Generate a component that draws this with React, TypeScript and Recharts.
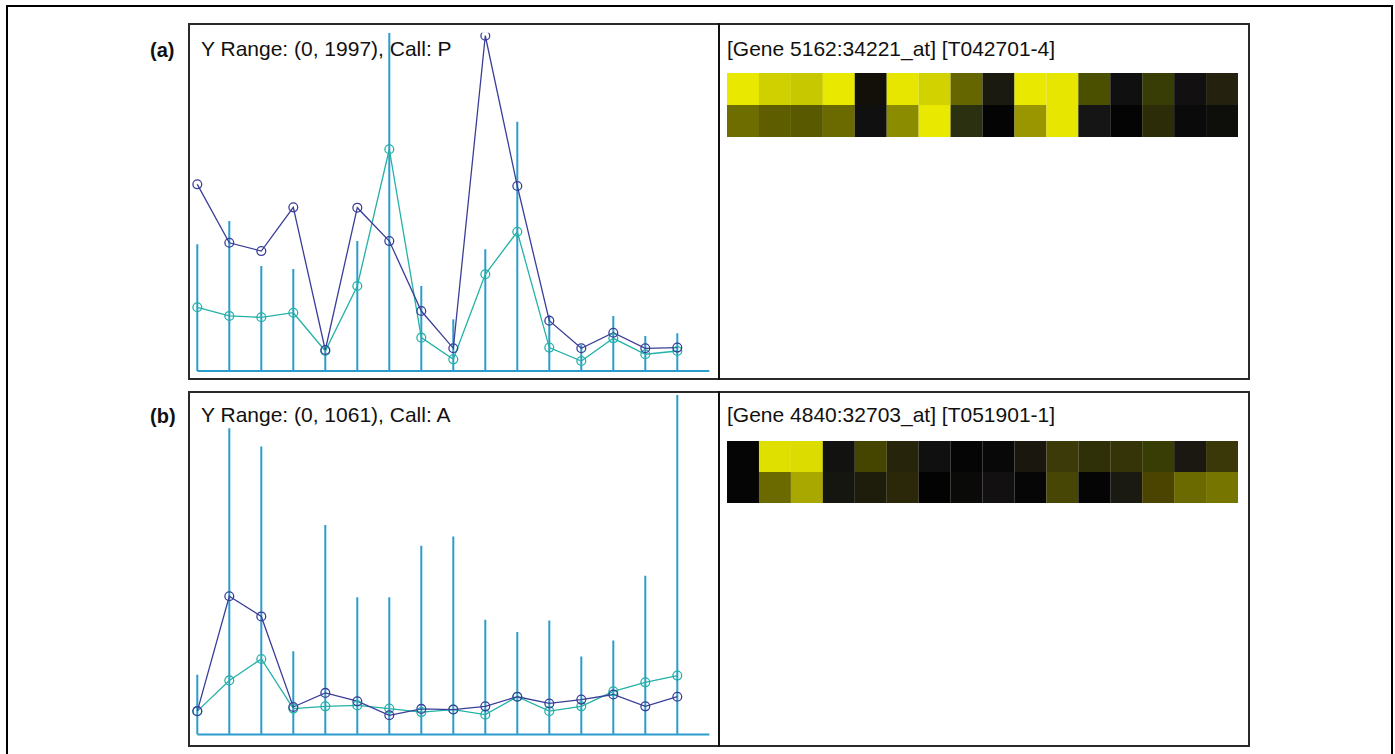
import React from 'react';
import { ComposedChart, Bar, Line, XAxis, YAxis, BarChart, Cell } from 'recharts';

// Sample index (16 samples) and the panel axis range
const sampleIndex = [0, 1, 2, 3, 4, 5, 6, 7, 8, 9, 10, 11, 12, 13, 14, 15];
const xDomainMax = 16;

// Panel (a): Gene 5162:34221_at
const aTitle = 'Y Range: (0, 1997), Call: P';
const aGene = '[Gene 5162:34221_at] [T042701-4]';
const aYMax = 1997;
const aStem = [748, 885, 620, 602, 153, 767, 1997, 502, 305, 718, 1472, 331, 153, 325, 207, 223];
const aNavy = [1102, 757, 708, 966, 124, 964, 767, 354, 134, 1979, 1092, 297, 134, 226, 134, 138];
const aTeal = [376, 325, 317, 344, 118, 502, 1309, 197, 69, 571, 822, 138, 59, 193, 99, 118];
const aHeatTop = ['#e8e800', '#d0d000', '#c8c800', '#e8e800', '#121008', '#e6e600', '#d2d200', '#666600',
  '#1a1a10', '#e8e800', '#e6e600', '#4a5000', '#101010', '#383c05', '#121010', '#24220e'];
const aHeatBottom = ['#6e6e00', '#5e5e00', '#595900', '#6a6a00', '#101010', '#8c8c00', '#e8e800', '#2a3010',
  '#040404', '#9a9600', '#e6e600', '#151515', '#040404', '#2c2c08', '#0a0a0a', '#0e0e0a'];

// Panel (b): Gene 4840:32703_at
const bTitle = 'Y Range: (0, 1061), Call: A';
const bGene = '[Gene 4840:32703_at] [T051901-1]';
const bYMax = 1061;
const bStem = [187, 957, 900, 260, 655, 429, 429, 590, 619, 359, 320, 356, 244, 294, 496, 1061];
const bNavy = [73, 432, 369, 86, 130, 104, 60, 80, 78, 88, 118, 97, 109, 125, 88, 118];
const bTeal = [73, 169, 236, 81, 88, 91, 81, 70, 78, 62, 118, 73, 88, 135, 163, 184];
const bHeatTop = ['#050505', '#e0e000', '#dcdc00', '#121210', '#454500', '#26240a', '#101010', '#050505',
  '#080808', '#1a180e', '#3c3a08', '#303008', '#343408', '#383c05', '#1a1810', '#3a3808'];
const bHeatBottom = ['#050505', '#6a6a00', '#a8a800', '#161610', '#1e1c0a', '#2a2808', '#030303', '#0a0a08',
  '#121010', '#060606', '#484605', '#050505', '#1a1a12', '#4a4400', '#6a6a00', '#757500'];

const NAVY = '#3a3e98';
const TEAL = '#22b2a6';
const STEM = '#2b9ccb';
const FONT = '"Liberation Sans", Arial, Helvetica, sans-serif';

function buildRows(stem: number[], navy: number[], teal: number[]) {
  return sampleIndex.map((x, i) => ({ x, stem: stem[i], navy: navy[i], teal: teal[i] }));
}

function buildHeat(top: string[], bottom: string[]) {
  return top.map((c, i) => ({ k: i, r1: 1, r2: 1, c1: c, c2: bottom[i] }));
}

function Profile({ rows, yMax, width, height, margin }: any) {
  return (
    <ComposedChart width={width} height={height} data={rows} margin={margin}>
      <XAxis
        dataKey="x"
        type="number"
        domain={[0, xDomainMax]}
        height={2}
        tick={false}
        tickLine={false}
        axisLine={{ stroke: STEM, strokeWidth: 2 }}
      />
      <YAxis hide type="number" domain={[0, yMax]} allowDataOverflow />
      <Bar dataKey="stem" barSize={2} fill={STEM} isAnimationActive={false} />
      <Line
        dataKey="teal"
        type="linear"
        stroke={TEAL}
        strokeWidth={1.3}
        dot={{ r: 4.4, fill: 'none', stroke: TEAL, strokeWidth: 1.3 }}
        isAnimationActive={false}
      />
      <Line
        dataKey="navy"
        type="linear"
        stroke={NAVY}
        strokeWidth={1.3}
        dot={{ r: 4.4, fill: 'none', stroke: NAVY, strokeWidth: 1.3 }}
        isAnimationActive={false}
      />
    </ComposedChart>
  );
}

function Heat({ cells, width, height }: any) {
  return (
    <BarChart width={width} height={height} data={cells} margin={{ top: 0, right: 0, bottom: 0, left: 0 }}
      barCategoryGap={0} barGap={0}>
      <XAxis dataKey="k" hide />
      <YAxis hide domain={[0, 2]} />
      <Bar dataKey="r2" stackId="h" isAnimationActive={false}>
        {cells.map((c: any, i: number) => <Cell key={i} fill={c.c2} />)}
      </Bar>
      <Bar dataKey="r1" stackId="h" isAnimationActive={false}>
        {cells.map((c: any, i: number) => <Cell key={i} fill={c.c1} />)}
      </Bar>
    </BarChart>
  );
}

const abs = (left: number, top: number, extra: any = {}) => ({ position: 'absolute' as const, left, top, ...extra });

export default function App() {
  const aRows = buildRows(aStem, aNavy, aTeal);
  const bRows = buildRows(bStem, bNavy, bTeal);
  const aCells = buildHeat(aHeatTop, aHeatBottom);
  const bCells = buildHeat(bHeatTop, bHeatBottom);
  const txt = { fontFamily: FONT, fontSize: 21, lineHeight: '21px', color: '#111', whiteSpace: 'nowrap' as const };
  const lbl = { fontFamily: FONT, fontSize: 20, lineHeight: '20px', fontWeight: 700, color: '#111', whiteSpace: 'nowrap' as const };
  return (
    <div style={{ position: 'fixed', left: 0, top: 0, width: 1395, height: 754, overflow: 'hidden', background: '#fff' }}>
      {/* outer frame */}
      <div style={abs(6, 5, { width: 1383, height: 800, border: '2px solid #000' })} />
      {/* panel boxes */}
      <div style={abs(188, 23, { width: 1058, height: 353, border: '2px solid #2a2a2a' })} />
      <div style={abs(718, 23, { width: 2, height: 357, background: '#111' })} />
      <div style={abs(188, 391, { width: 1058, height: 352, border: '2px solid #2a2a2a' })} />
      <div style={abs(718, 391, { width: 2, height: 356, background: '#111' })} />

      {/* labels */}
      <div style={abs(150, 40, lbl)}>(a)</div>
      <div style={abs(150, 406, lbl)}>(b)</div>
      <div style={abs(201, 38, txt)}>{aTitle}</div>
      <div style={abs(727, 38, txt)}>{aGene}</div>
      <div style={abs(201, 404, txt)}>{bTitle}</div>
      <div style={abs(727, 404, txt)}>{bGene}</div>

      {/* profile charts */}
      <div style={abs(189, 24)}>
        <Profile rows={aRows} yMax={aYMax} width={530} height={355}
          margin={{ top: 8.7, right: 9.7, bottom: 6, left: 8.3 }} />
      </div>
      <div style={abs(189, 392)}>
        <Profile rows={bRows} yMax={bYMax} width={530} height={354}
          margin={{ top: 3, right: 9.7, bottom: 9.5, left: 8.3 }} />
      </div>

      {/* heat maps */}
      <div style={abs(727, 73)}>
        <Heat cells={aCells} width={511} height={64} />
      </div>
      <div style={abs(727, 441)}>
        <Heat cells={bCells} width={511} height={62} />
      </div>
    </div>
  );
}
